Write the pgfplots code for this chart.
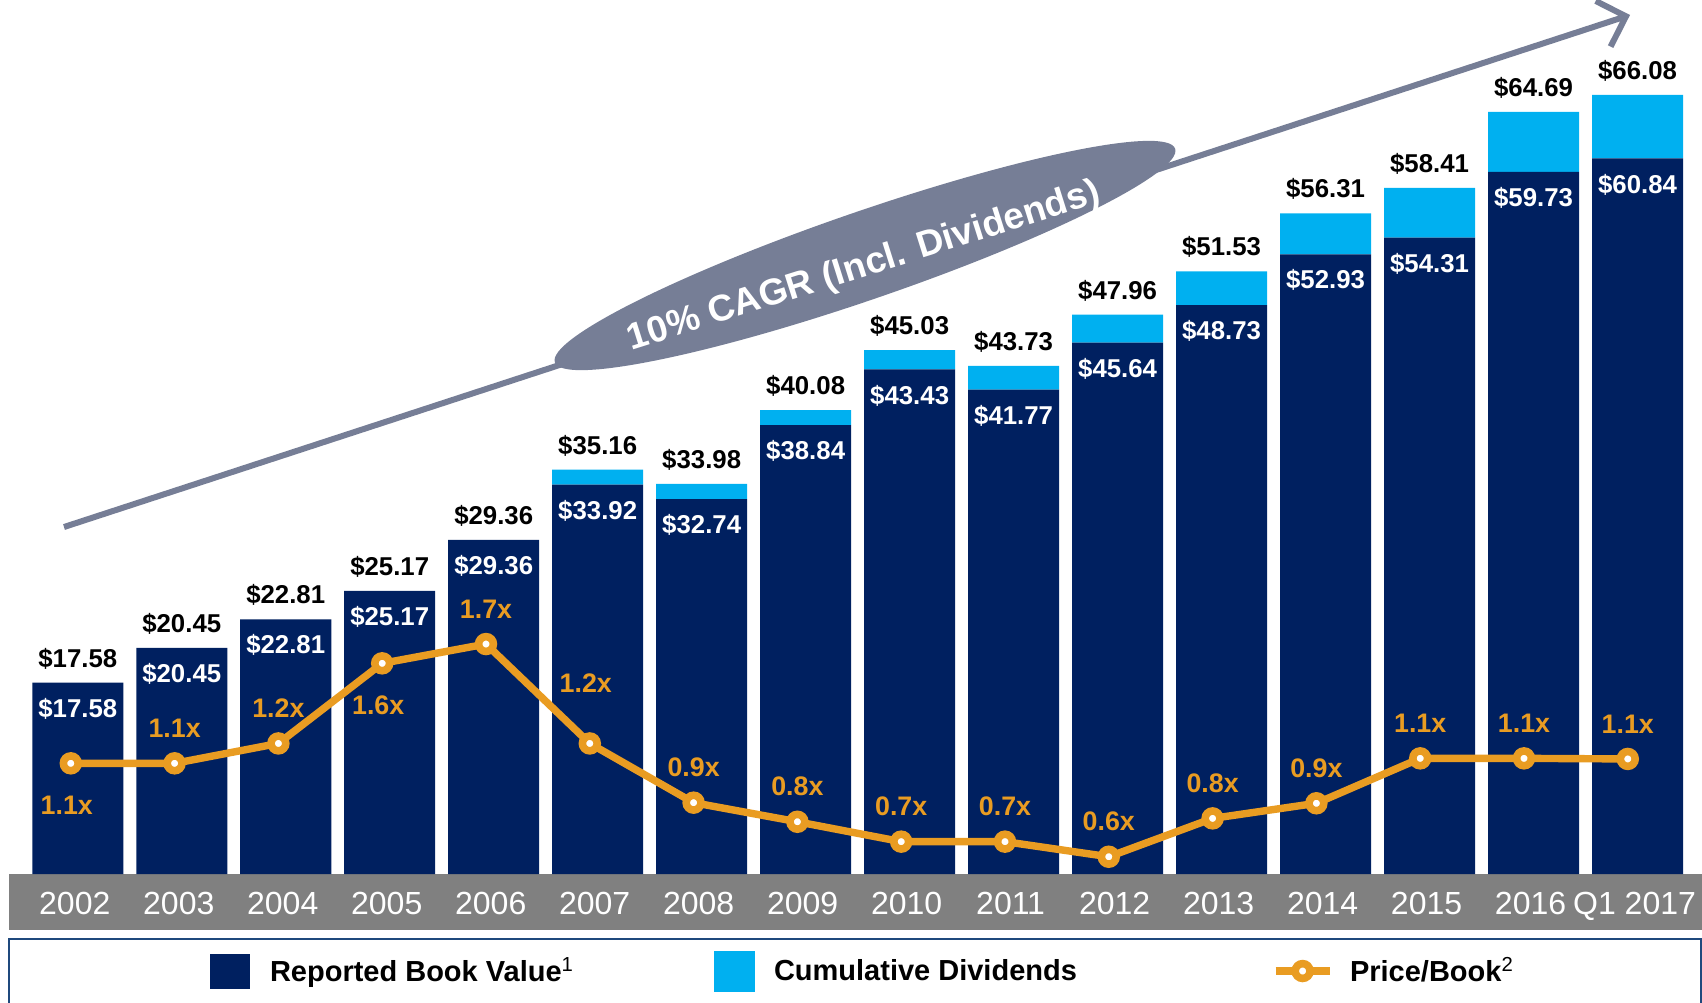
\documentclass[border=0pt]{standalone}
\usepackage{fontspec}
\setmainfont{Liberation Sans}
\usepackage{pgfplots}
\pgfplotsset{compat=1.18}
\usepackage{pgfplotstable}
\usetikzlibrary{arrows.meta}

\definecolor{cNavy}{RGB}{0,32,96}
\definecolor{cCyan}{RGB}{0,176,240}
\definecolor{cOrange}{RGB}{233,156,34}
\definecolor{cBand}{RGB}{128,128,128}
\definecolor{cArrow}{RGB}{118,126,150}
\definecolor{cBorder}{RGB}{31,73,125}

\pgfplotstableread{
x book div tot
0 17.58 0 17.58
1 20.45 0 20.45
2 22.81 0 22.81
3 25.17 0 25.17
4 29.36 0 29.36
5 33.92 1.24 35.16
6 32.74 1.24 33.98
7 38.84 1.24 40.08
8 43.43 1.60 45.03
9 41.77 1.96 43.73
10 45.64 2.32 47.96
11 48.73 2.80 51.53
12 52.93 3.38 56.31
13 54.31 4.10 58.41
14 59.73 4.96 64.69
15 60.84 5.24 66.08
}\bvdata

% Price/Book: all points
\pgfplotstableread{
x pb lab
0 1.100 1.1
1 1.100 1.1
2 1.200 1.2
3 1.603 1.6
4 1.700 1.7
5 1.200 1.2
6 0.902 0.9
7 0.806 0.8
8 0.706 0.7
9 0.706 0.7
10 0.630 0.6
11 0.823 0.8
12 0.899 0.9
13 1.125 1.1
14 1.125 1.1
15 1.122 1.1
}\pbdata
% labels set above their points
\pgfplotstableread{
x pb lab
1 1.100 1.1
2 1.200 1.2
4 1.700 1.7
6 0.902 0.9
7 0.806 0.8
8 0.706 0.7
9 0.706 0.7
10 0.630 0.6
11 0.823 0.8
12 0.899 0.9
13 1.125 1.1
14 1.125 1.1
15 1.122 1.1
}\pbabove
% labels set below their points
\pgfplotstableread{
x pb lab
0 1.100 1.1
3 1.603 1.6
}\pbbelow
% label set high above its point
\pgfplotstableread{
x pb lab
5 1.200 1.2
}\pbhigh

\begin{document}
\begin{tikzpicture}
\useasboundingbox (0,0) rectangle (851pt,-501pt);
\begin{scope}[x=0.5pt,y=-0.5pt]
\fill[cBand] (9,874) rectangle (1702,930);
\end{scope}

\begin{axis}[
  at={(0pt,-437pt)}, anchor=south west, scale only axis,
  width=851pt, height=437pt,
  xmin=-0.748, xmax=15.620, ymin=1.799, ymax=73.91,
  ybar stacked, bar width=45.5pt,
  axis line style={draw=none}, major tick length=0pt, ytick=\empty,
  xtick={0,...,15},
  xticklabels={2002,2003,2004,2005,2006,2007,2008,2009,2010,2011,2012,2013,2014,2015,2016,Q1 2017},
  xticklabel style={anchor=base, yshift=-20.15pt, xshift=-1.5pt, text=white, font=\fontsize{16}{16}\selectfont},
  legend columns=3,
  legend cell align=left,
  legend style={at={(0.1234,-0.111)}, anchor=west, draw=none, fill=none,
    inner sep=0pt, outer sep=0pt,
    /tikz/every even column/.style={column sep=0pt},
    /tikz/every odd column/.style={column sep=0pt},
    nodes={inner sep=0pt, anchor=west, text=black, font=\bfseries\fontsize{14.5}{14.5}\selectfont}},
]
\addplot[fill=cNavy, draw=none,
  legend image code/.code={\fill[cNavy] (0pt,-8.75pt) rectangle (20pt,8.75pt); \path (30pt,0pt);}
] table[x=x, y=book] {\bvdata};
\addlegendentry{\makebox[222pt][l]{Reported Book Value\textsuperscript{\mdseries 1}}}

\addplot[fill=cCyan, draw=none,
  legend image code/.code={\fill[cCyan] (0pt,-10.25pt) rectangle (20.5pt,10.25pt); \path (30pt,0pt);}
] table[x=x, y=div] {\bvdata};
\addlegendentry{\makebox[249pt][l]{Cumulative Dividends}}

\addlegendimage{legend image code/.code={
  \draw[cOrange, line width=3.6pt] (0pt,0pt) -- (27pt,0pt);
  \draw[cOrange, fill=white, line width=3.8pt] (13.5pt,0pt) circle[radius=3.7pt];
  \path (37pt,0pt);}}
\addlegendentry{Price/Book\textsuperscript{\mdseries 2}}
\end{axis}

% value labels of the bars
\begin{axis}[
  at={(0pt,-437pt)}, anchor=south west, scale only axis,
  width=851pt, height=437pt,
  xmin=-0.748, xmax=15.620, ymin=1.799, ymax=73.91,
  hide axis, clip=false,
]
\addplot[draw=none, mark=none, point meta=explicit symbolic,
  nodes near coords={\$\pgfplotspointmeta},
  every node near coord/.append style={anchor=center, yshift=-13pt, text=white, font=\bfseries\fontsize{12.9}{12.9}\selectfont}
] table[x=x, y=book, meta=book] {\bvdata};
\addplot[draw=none, mark=none, point meta=explicit symbolic,
  nodes near coords={\$\pgfplotspointmeta},
  every node near coord/.append style={anchor=center, yshift=12pt, text=black, font=\bfseries\fontsize{12.9}{12.9}\selectfont}
] table[x=x, y=tot, meta=tot] {\bvdata};
\end{axis}

\begin{axis}[
  at={(0pt,-437pt)}, anchor=south west, scale only axis,
  width=851pt, height=437pt,
  xmin=-0.682, xmax=15.715, ymin=0.5432, ymax=4.9396,
  hide axis, clip=false,
  pblab/.style={draw=none, mark=none, point meta=explicit symbolic,
    nodes near coords={\pgfplotspointmeta x},
    every node near coord/.append style={anchor=center, text=cOrange, font=\bfseries\fontsize{13.4}{13.4}\selectfont, #1}},
]
\addplot[cOrange, line width=3.7pt, mark=*, mark size=3.7pt,
  mark options={draw=cOrange, fill=white, line width=3.8pt}]
  table[x=x, y=pb] {\pbdata};
\addplot[pblab={yshift=17.5pt}] table[x=x, y=pb, meta=lab] {\pbabove};
\addplot[pblab={yshift=-21pt, xshift=-2pt}] table[x=x, y=pb, meta=lab] {\pbbelow};
\addplot[pblab={yshift=30pt, xshift=-2pt}] table[x=x, y=pb, meta=lab] {\pbhigh};
\end{axis}

\begin{scope}[x=0.5pt,y=-0.5pt]
\draw[cArrow, line width=3pt, -{Straight Barb[length=12pt,width=24pt]}] (64,527) -- (1630,15);
\fill[cArrow] (865,255.5) ellipse [x radius=164pt, y radius=22pt, rotate=19];
\node[rotate=17.5, text=white, font=\bfseries\fontsize{18.5}{18.5}\selectfont, inner sep=0pt] at (864,267) {10\% CAGR (Incl. Dividends)};
\draw[cBorder, line width=1.3pt] (9,1010) -- (9,939) -- (1701,939) -- (1701,1010);
\end{scope}
\end{tikzpicture}
\end{document}
